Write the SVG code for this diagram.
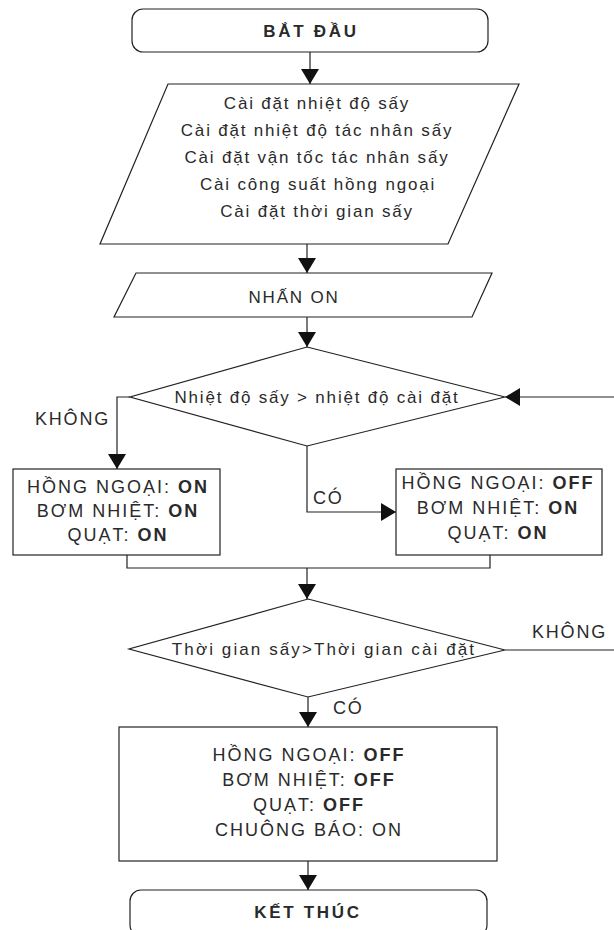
<svg xmlns="http://www.w3.org/2000/svg" width="614" height="930" viewBox="0 0 614 930">
<defs>
<marker id="ah" markerUnits="userSpaceOnUse" markerWidth="16" markerHeight="18" refX="15" refY="9" orient="auto" viewBox="0 0 16 18">
<path d="M0,0 L15,9 L0,18 Z" fill="#111"/>
</marker>
</defs>
<style>
.s{fill:#fff;stroke:#222;stroke-width:1.2}
.c{fill:none;stroke:#222;stroke-width:1.2}
.a{marker-end:url(#ah)}
.t{font-family:"Liberation Sans",Arial,sans-serif;font-size:17px;fill:#2a2a2a;text-anchor:middle;letter-spacing:1.8px}
.x{font-size:18px;letter-spacing:2px}
.b{font-weight:bold}
.l{font-family:"Liberation Sans",Arial,sans-serif;font-size:18px;fill:#2a2a2a;letter-spacing:1.8px}
</style>
<rect width="614" height="930" fill="#fff"/>
<g id="connectors">
<path class="c a" d="M310,52 V84"/>
<path class="c a" d="M307,244 V273"/>
<path class="c a" d="M307,317 V347"/>
<path class="c a" d="M130,397 H117 V469"/>
<path class="c a" d="M307,446 V512 H396"/>
<path class="c a" d="M614,397 H505"/>
<path class="c" d="M127,555 V568 H490 V555"/>
<path class="c a" d="M307,568 V599"/>
<path class="c" d="M505,650 H614"/>
<path class="c a" d="M308,697 V727"/>
<path class="c a" d="M308,861 V890"/>
<text class="l" x="35" y="425">KHÔNG</text>
<text class="l" x="313" y="504">CÓ</text>
<text class="l" x="532" y="638">KHÔNG</text>
<text class="l" x="333" y="714">CÓ</text>
</g>
<g id="start">
<rect class="s" x="132" y="9" width="356" height="43" rx="11"/>
<text class="t b" x="311" y="37" style="letter-spacing:2.7px">BẮT ĐẦU</text>
</g>
<g id="settings">
<polygon class="s" points="168,84 519,84 448,244 100,244"/>
<text class="t" x="317" y="109">Cài đặt nhiệt độ sấy</text>
<text class="t" x="317" y="136">Cài đặt nhiệt độ tác nhân sấy</text>
<text class="t" x="317" y="163">Cài đặt vận tốc tác nhân sấy</text>
<text class="t" x="318" y="190">Cài công suất hồng ngoại</text>
<text class="t" x="317" y="217">Cài đặt thời gian sấy</text>
</g>
<g id="press-on">
<polygon class="s" points="136,273 492,273 472,317 114,317"/>
<text class="t" x="294" y="303">NHẤN ON</text>
</g>
<g id="decision-temp">
<polygon class="s" points="307,347 505,397 307,446 130,397"/>
<text class="t" x="317" y="403">Nhiệt độ sấy &gt; nhiệt độ cài đặt</text>
</g>
<g id="box-left">
<rect class="s" x="13" y="469" width="207" height="86"/>
<text class="t x" x="118" y="493">HỒNG NGOẠI: <tspan class="b">ON</tspan></text>
<text class="t x" x="118" y="517">BƠM NHIỆT: <tspan class="b">ON</tspan></text>
<text class="t x" x="118" y="541">QUẠT: <tspan class="b">ON</tspan></text>
</g>
<g id="box-right">
<rect class="s" x="396" y="469" width="206" height="86"/>
<text class="t x" x="498" y="489">HỒNG NGOẠI: <tspan class="b">OFF</tspan></text>
<text class="t x" x="498" y="514">BƠM NHIỆT: <tspan class="b">ON</tspan></text>
<text class="t x" x="498" y="539">QUẠT: <tspan class="b">ON</tspan></text>
</g>
<g id="decision-time">
<polygon class="s" points="308,599 505,650 308,697 129,649"/>
<text class="t" x="324" y="655" style="letter-spacing:2.1px">Thời gian sấy&gt;Thời gian cài đặt</text>
</g>
<g id="box-end">
<rect class="s" x="119" y="727" width="378" height="134"/>
<text class="t x" x="309" y="761">HỒNG NGOẠI: <tspan class="b">OFF</tspan></text>
<text class="t x" x="309" y="786">BƠM NHIỆT: <tspan class="b">OFF</tspan></text>
<text class="t x" x="309" y="811">QUẠT: <tspan class="b">OFF</tspan></text>
<text class="t x" x="309" y="836">CHUÔNG BÁO: ON</text>
</g>
<g id="finish">
<rect class="s" x="130" y="890" width="357" height="46" rx="11"/>
<text class="t b" x="308" y="918" style="letter-spacing:2.7px">KẾT THÚC</text>
</g>
</svg>
